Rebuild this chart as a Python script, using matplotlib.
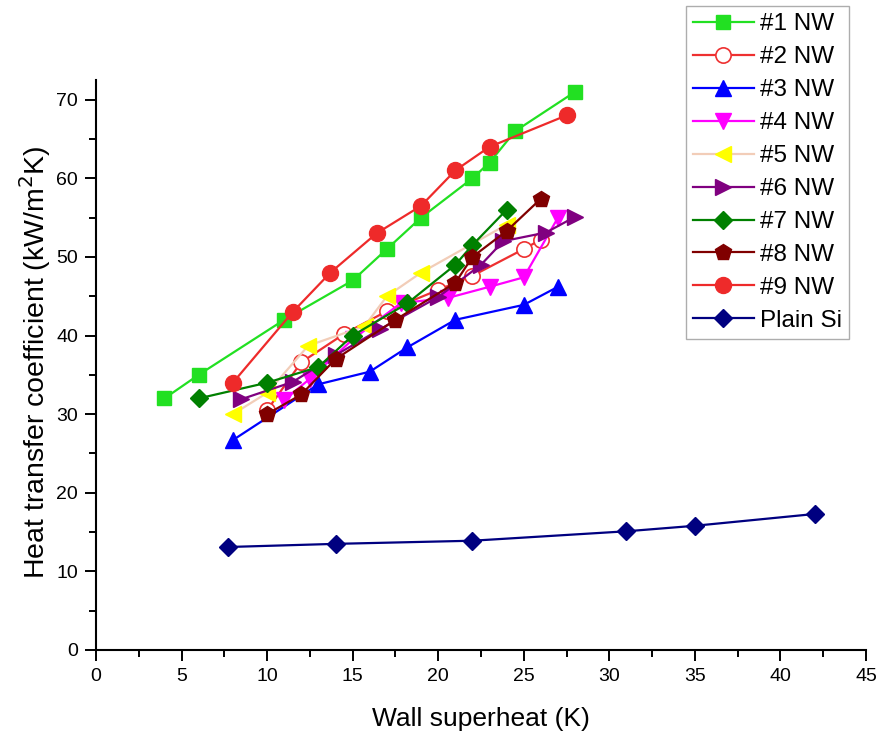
import matplotlib
matplotlib.use("Agg")
import matplotlib.pyplot as plt
from matplotlib.ticker import MultipleLocator

plt.rcParams['font.family'] = ['Liberation Sans', 'DejaVu Sans']

# Wall superheat (K) and heat transfer coefficient (kW/m^2K) per surface
x1 = [4, 6, 11, 15, 17, 19, 22, 23, 24.5, 28]
y1 = [32, 35, 42, 47, 51, 55, 60, 62, 66, 71]
x2 = [10, 12, 14.5, 17, 20, 22, 25, 26]
y2 = [30.5, 36.6, 40.2, 43.1, 45.8, 47.6, 51, 52.2]
x3 = [8, 13, 16, 18.2, 21, 25, 27]
y3 = [26.7, 33.8, 35.4, 38.5, 42, 43.9, 46.2]
x4 = [11, 12.5, 15, 17.8, 20.6, 23, 25, 27]
y4 = [31.8, 34.5, 39.5, 44.1, 44.8, 46.2, 47.4, 55]
x5 = [8, 10, 12.4, 15.7, 17, 19, 24]
y5 = [30, 32.7, 38.7, 41.2, 45, 48, 54.1]
x6 = [8.5, 11.5, 14, 16.6, 20, 22.5, 23.8, 26.3, 28]
y6 = [31.9, 34.1, 37.5, 40.8, 44.9, 49, 52, 53.1, 55.1]
x7 = [6, 10, 13, 15, 18.2, 21, 22, 24]
y7 = [32, 34, 36, 40, 44.1, 49, 51.5, 56]
x8 = [10, 12, 14, 17.5, 21, 22, 24, 26]
y8 = [30, 32.5, 37, 42, 46.7, 50, 53.3, 57.4]
x9 = [8, 11.5, 13.7, 16.4, 19, 21, 23, 27.5]
y9 = [34, 43, 48, 53, 56.5, 61, 64, 68]
x_si = [7.7, 14, 22, 31, 35, 42]
y_si = [13.1, 13.5, 13.9, 15.1, 15.8, 17.3]

labels = ["#1 NW", "#2 NW", "#3 NW", "#4 NW", "#5 NW",
          "#6 NW", "#7 NW", "#8 NW", "#9 NW", "Plain Si"]

series = [
    (x1, y1, dict(color='#22e022', marker='s', mfc='#22e022', mec='#22e022', ms=10)),
    (x2, y2, dict(color='#ee3030', marker='o', mfc='white', mec='#ee3030', ms=11, mew=1.2)),
    (x3, y3, dict(color='#0000ff', marker='^', mfc='#0000ff', mec='#0000ff', ms=12)),
    (x4, y4, dict(color='#ff00ff', marker='v', mfc='#ff00ff', mec='#ff00ff', ms=12)),
    (x5, y5, dict(color='#f2cdb8', marker='<', mfc='#ffff00', mec='#ffff00', ms=12)),
    (x6, y6, dict(color='#800080', marker='>', mfc='#800080', mec='#800080', ms=12)),
    (x7, y7, dict(color='#008000', marker='D', mfc='#008000', mec='#008000', ms=9.5)),
    (x8, y8, dict(color='#800000', marker='p', mfc='#800000', mec='#800000', ms=12)),
    (x9, y9, dict(color='#ee2a2a', marker='o', mfc='#ee2a2a', mec='#ee2a2a', ms=11.5)),
    (x_si, y_si, dict(color='#000080', marker='D', mfc='#000080', mec='#000080', ms=9.5)),
]

fig = plt.figure(figsize=(8.79, 7.37), dpi=100)
ax = fig.add_axes([96 / 879, 1 - 650 / 737, (866 - 96) / 879, (650 - 80) / 737])

handles = []
for (xs, ys, st), lab in zip(series, labels):
    h, = ax.plot(xs, ys, lw=1.6, label=lab, **st)
    handles.append(h)

ax.set_xlim(0, 45)
ax.set_ylim(0, 72.5)
ax.xaxis.set_major_locator(MultipleLocator(5))
ax.xaxis.set_minor_locator(MultipleLocator(2.5))
ax.yaxis.set_major_locator(MultipleLocator(10))
ax.yaxis.set_minor_locator(MultipleLocator(5))

for side in ('top', 'right'):
    ax.spines[side].set_visible(False)
for side in ('left', 'bottom'):
    ax.spines[side].set_linewidth(1.5)

ax.tick_params(which='major', direction='out', length=8, width=1.4,
               labelsize=14, pad=5)
ax.tick_params(which='minor', direction='out', length=5, width=1.4)

ax.set_xlabel("Wall superheat (K)", fontsize=19)
ax.set_ylabel("Heat transfer coefficient (kW/m$^2$K)", fontsize=20.5)
ax.xaxis.set_label_coords(0.5, -0.10)
ax.yaxis.set_label_coords(-0.056, 0.505)

leg = fig.legend(handles=handles, loc='upper right',
                 bbox_to_anchor=(849 / 879, 1 - 6 / 737),
                 fontsize=17.5, frameon=True, fancybox=False,
                 handlelength=2.5, handletextpad=0.25, labelspacing=0.45,
                 borderpad=0.3, borderaxespad=0.0)
leg.get_frame().set_edgecolor('#999999')
leg.get_frame().set_linewidth(1.0)

fig.savefig("out.png", dpi=100)
